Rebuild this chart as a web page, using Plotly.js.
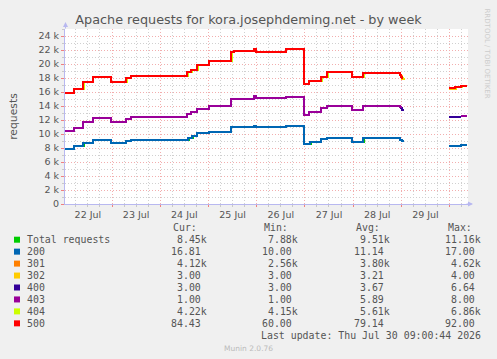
<!DOCTYPE html>
<html>
<head>
<meta charset="utf-8">
<script src="https://cdn.plot.ly/plotly-3.0.1.min.js"></script>
<style>
  html, body { margin: 0; padding: 0; background: #F0F0F0; }
  #chart { width: 497px; height: 359px; }
  /* crisp step lines so stacked series cover each other cleanly */
  #chart .scatterlayer .js-line { shape-rendering: crispEdges !important; }
</style>
</head>
<body>
<div id="chart"></div>
<script>
// ---- series: change points (time, requests); null marks a gap ----
const tTotal = ["2026-07-22 00:30","2026-07-22 05:00","2026-07-22 10:00","2026-07-22 14:30","2026-07-22 23:30","2026-07-23 07:00","2026-07-23 09:30","2026-07-24 14:30","2026-07-24 16:30","2026-07-24 18:30","2026-07-25 00:30","2026-07-25 11:00","2026-07-25 22:30","2026-07-25 23:30","2026-07-26 14:30","2026-07-26 23:30","2026-07-27 03:00","2026-07-27 08:00","2026-07-27 11:00","2026-07-27 23:30","2026-07-28 05:30","2026-07-28 23:30","2026-07-29 00:30","2026-07-29 01:30","2026-07-29 12:00","2026-07-29 23:30","2026-07-30 05:30","2026-07-30 08:30"];
const vTotal = [7900,8250,8700,9100,8750,8950,9150,9450,9750,10100,10350,10950,11200,10950,11200,8600,8900,9250,9500,8900,9450,9200,9000,9000,null,8330,8500,8500];

const t200 = ["2026-07-22 00:30","2026-07-22 05:00","2026-07-22 09:30","2026-07-22 14:30","2026-07-22 23:30","2026-07-23 07:00","2026-07-23 09:30","2026-07-24 14:00","2026-07-24 16:00","2026-07-24 18:30","2026-07-25 00:30","2026-07-25 11:00","2026-07-25 22:30","2026-07-25 23:30","2026-07-26 14:30","2026-07-26 23:30","2026-07-27 02:30","2026-07-27 08:00","2026-07-27 11:00","2026-07-27 23:30","2026-07-28 05:00","2026-07-28 23:30","2026-07-29 00:30","2026-07-29 01:30","2026-07-29 12:00","2026-07-29 23:30","2026-07-30 05:30","2026-07-30 08:30"];
const v200 = [7900,8250,8700,9100,8750,8950,9150,9450,9750,10100,10350,10950,11200,10950,11200,8600,8900,9250,9500,8900,9450,9200,9000,9000,null,8330,8500,8500];

const t302 = ["2026-07-28 23:30","2026-07-29 00:30","2026-07-29 02:00","2026-07-29 12:00","2026-07-29 23:30","2026-07-30 03:00","2026-07-30 06:00","2026-07-30 08:30"];
const v302 = [18300,17800,17800,null,16500,16650,16800,16800];

const t400 = ["2026-07-28 23:30","2026-07-29 00:00","2026-07-29 00:30","2026-07-29 01:30","2026-07-29 12:00","2026-07-29 23:30","2026-07-30 05:30"];
const v400 = [13800,13650,13500,13500,null,12480,12480];

const t403 = ["2026-07-22 00:30","2026-07-22 05:00","2026-07-22 09:30","2026-07-22 14:30","2026-07-22 23:30","2026-07-23 07:00","2026-07-23 09:30","2026-07-24 13:30","2026-07-24 15:30","2026-07-24 18:30","2026-07-25 00:30","2026-07-25 11:00","2026-07-25 22:30","2026-07-25 23:30","2026-07-26 14:30","2026-07-26 23:30","2026-07-27 02:00","2026-07-27 08:00","2026-07-27 11:00","2026-07-27 23:30","2026-07-28 05:00","2026-07-28 23:30","2026-07-29 00:30","2026-07-29 12:00","2026-07-30 05:30","2026-07-30 08:30"];
const v403 = [10450,10900,11650,12300,11700,12150,12500,12850,13200,13550,14050,15000,15450,15100,15350,12700,13100,13650,14050,13500,14050,13800,13800,null,12600,12600];

const t404 = ["2026-07-22 00:30","2026-07-22 05:00","2026-07-22 10:00","2026-07-22 14:30","2026-07-22 23:30","2026-07-23 07:30","2026-07-23 09:30","2026-07-24 14:00","2026-07-24 16:00","2026-07-24 19:00","2026-07-25 00:30","2026-07-25 11:30","2026-07-25 12:30","2026-07-25 22:30","2026-07-25 23:30","2026-07-26 14:30","2026-07-26 23:30","2026-07-27 02:00","2026-07-27 08:30","2026-07-27 11:30","2026-07-27 23:30","2026-07-28 05:30","2026-07-28 23:30","2026-07-29 00:00","2026-07-29 00:30","2026-07-29 01:30","2026-07-29 12:00","2026-07-29 23:30","2026-07-30 03:00","2026-07-30 06:00","2026-07-30 08:30"];
const v404 = [15800,16400,17400,18100,17500,18000,18300,18800,19100,19800,20400,21700,21850,22200,21750,22200,17100,17600,18200,18800,18150,18700,18400,18100,17950,17950,null,16560,16700,16850,16850];

const t500 = ["2026-07-22 00:30","2026-07-22 05:00","2026-07-22 09:30","2026-07-22 14:30","2026-07-22 23:30","2026-07-23 07:00","2026-07-23 09:30","2026-07-24 13:30","2026-07-24 15:30","2026-07-24 18:30","2026-07-25 00:30","2026-07-25 11:00","2026-07-25 12:30","2026-07-25 22:30","2026-07-25 23:30","2026-07-26 14:30","2026-07-26 23:30","2026-07-27 02:00","2026-07-27 08:00","2026-07-27 11:00","2026-07-27 23:30","2026-07-28 05:00","2026-07-28 23:30","2026-07-29 00:00","2026-07-29 00:30","2026-07-29 01:00","2026-07-29 12:00","2026-07-29 23:30","2026-07-30 02:30","2026-07-30 05:30","2026-07-30 08:30"];
const v500 = [15800,16400,17400,18100,17500,18000,18300,18800,19100,19800,20400,21700,21850,22200,21750,22200,17100,17600,18200,18800,18150,18700,18400,18100,17950,17950,null,16600,16750,16900,16900];

// ---- axis ticks ----
const yTickVals = [0,2000,4000,6000,8000,10000,12000,14000,16000,18000,20000,22000,24000];
const yTickText = ["0","2 k","4 k","6 k","8 k","10 k","12 k","14 k","16 k","18 k","20 k","22 k","24 k"];

// ---- legend table ----
const legendNames = ["Total requests","200","301","302","400","403","404","500"];
const legendColors = ["#00CC00","#0066B3","#FF8000","#FFCC00","#330099","#990099","#CCFF00","#FF0000"];
const curVals = ["8.45k","16.81","4.12k","3.00","3.00","1.00","4.22k","84.43"];
const minVals = ["7.88k","10.00","2.56k","3.00","3.00","1.00","4.15k","60.00"];
const avgVals = ["9.51k","11.14","3.80k","3.21","3.67","5.89","5.61k","79.14"];
const maxVals = ["11.16k","17.00","4.62k","4.00","6.64","8.00","6.86k","92.00"];
const colHeaders = ["Cur:","Min:","Avg:","Max:"];
const lastUpdate = "Last update: Thu Jul 30 09:00:44 2026";

// ---- geometry (pixels) ----
const L = 65, R = 29, T = 29, B = 155;
const W = 497 - L - R, H = 359 - T - B;
const px = v => (v - L) / W;
const py = v => (T + H - v) / H;

function line(t, v, color) {
  return { x: t, y: v, type: "scatter", mode: "lines",
           line: { color: color, width: 2, shape: "hv" },
           connectgaps: false, hoverinfo: "skip", showlegend: false };
}

const data = [
  line(tTotal, vTotal, legendColors[0]),
  line(t200, v200, legendColors[1]),
  line(t302, v302, legendColors[3]),
  line(t400, v400, legendColors[4]),
  line(t403, v403, legendColors[5]),
  line(t404, v404, legendColors[6]),
  line(t500, v500, legendColors[7])
];

const mono = { family: "DejaVu Sans Mono", size: 9.9, color: "#555" };
const annotations = [];
const shapes = [];

// column headers
const headerX = [171.7, 263.3, 355, 446.7];
colHeaders.forEach((h, i) => annotations.push({
  text: h, xref: "paper", yref: "paper", x: px(headerX[i]), y: py(227.7),
  xanchor: "left", yanchor: "middle", showarrow: false, font: mono, borderpad: 0
}));

// rows
const colRight = [208.3, 299, 390.7, 482.3];
const rowY0 = 239.7, rowStep = 11.95;
legendNames.forEach((name, r) => {
  const yy = rowY0 + r * rowStep;
  shapes.push({ type: "rect", xref: "paper", yref: "paper",
    x0: px(14), x1: px(20), y0: py(yy + 3), y1: py(yy - 3),
    fillcolor: legendColors[r], line: { width: 0 } });
  annotations.push({ text: name, xref: "paper", yref: "paper", x: px(26), y: py(yy),
    xanchor: "left", yanchor: "middle", showarrow: false, font: mono, borderpad: 0 });
  [curVals, minVals, avgVals, maxVals].forEach((col, c) => {
    let s = col[r];
    if (!s.endsWith("k")) s = s + "\u00a0";
    annotations.push({ text: s, xref: "paper", yref: "paper", x: px(colRight[c]), y: py(yy),
      xanchor: "right", yanchor: "middle", showarrow: false, font: mono, borderpad: 0 });
  });
});

annotations.push({ text: lastUpdate, xref: "paper", yref: "paper", x: px(482.3), y: py(335.3),
  xanchor: "right", yanchor: "middle", showarrow: false, font: mono, borderpad: 0 });
annotations.push({ text: "Munin 2.0.76", xref: "paper", yref: "paper", x: px(248), y: py(348),
  xanchor: "center", yanchor: "middle", showarrow: false,
  font: { family: "DejaVu Sans", size: 7.5, color: "#BBBBBB" }, borderpad: 0 });
annotations.push({ text: "RRDTOOL / TOBI OETIKER", xref: "paper", yref: "paper", x: px(487), y: py(53.5),
  xanchor: "center", yanchor: "middle", textangle: 90, showarrow: false,
  font: { family: "DejaVu Sans", size: 7, color: "#CCCCCC" }, borderpad: 0 });

// axis arrows
annotations.push({ text: "", xref: "paper", yref: "paper", x: px(65.5), y: py(22), ax: 0, ay: 8,
  showarrow: true, arrowhead: 2, arrowsize: 1, arrowwidth: 1, arrowcolor: "#B8B8F0" });
annotations.push({ text: "", xref: "paper", yref: "paper", x: px(473), y: py(204), ax: -8, ay: 0,
  showarrow: true, arrowhead: 2, arrowsize: 1, arrowwidth: 1, arrowcolor: "#B8B8F0" });

const tickFont = { family: "DejaVu Sans", size: 9.5, color: "#555" };

const layout = {
  width: 497, height: 359,
  paper_bgcolor: "#F0F0F0", plot_bgcolor: "#FFFFFF",
  margin: { l: L, r: R, t: T, b: B, pad: 0 },
  showlegend: false,
  title: { text: "Apache requests for kora.josephdeming.net - by week",
           font: { family: "DejaVu Sans", size: 12.8, color: "#555" },
           x: 0.5, xref: "container", xanchor: "center", y: 1 - 19.3 / 359, yanchor: "middle" },
  xaxis: {
    type: "date", range: ["2026-07-22 00:36", "2026-07-30 09:12"],
    dtick: 86400000, tick0: "2026-07-22", tickformat: "%d %b", ticklabelmode: "period",
    showgrid: true, gridcolor: "#F2AEAE", griddash: "1px,2px", gridwidth: 1,
    ticks: "outside", ticklen: 2, tickcolor: "#F08080",
    minor: { dtick: 21600000, tick0: "2026-07-22", showgrid: true, gridcolor: "#D0D0D0",
             griddash: "1px,2px", ticks: "outside", ticklen: 2, tickcolor: "#C8C8C8" },
    showline: true, linecolor: "#B8B8F0", linewidth: 1,
    zeroline: false, tickfont: tickFont, fixedrange: true
  },
  yaxis: {
    range: [0, 25000], tickmode: "array", tickvals: yTickVals, ticktext: yTickText,
    showgrid: true, gridcolor: "#F2AEAE", griddash: "1px,2px", gridwidth: 1,
    ticks: "outside", ticklen: 3, tickcolor: "#F08080",
    minor: { dtick: 1000, tick0: 0, showgrid: true, gridcolor: "#D0D0D0",
             griddash: "1px,2px", ticks: "outside", ticklen: 2, tickcolor: "#C8C8C8" },
    showline: true, linecolor: "#B8B8F0", linewidth: 1,
    zeroline: false, tickfont: tickFont, fixedrange: true,
    title: { text: "requests", font: { family: "DejaVu Sans", size: 10.8, color: "#555" }, standoff: 18 }
  },
  annotations: annotations,
  shapes: shapes
};

Plotly.newPlot("chart", data, layout, { displayModeBar: false, staticPlot: true });
</script>
</body>
</html>
